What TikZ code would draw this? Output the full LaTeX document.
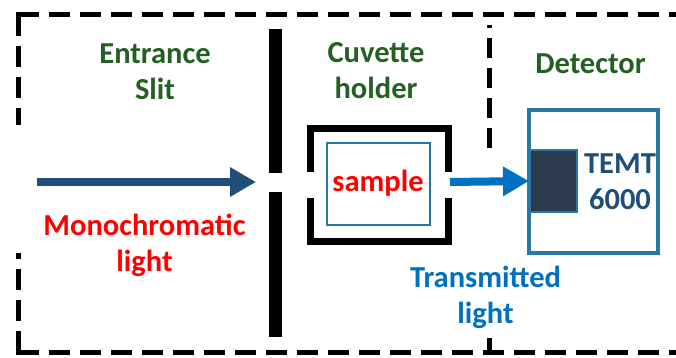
\documentclass[tikz,border=0pt]{standalone}
\usepackage{fontspec}
\setmainfont{Carlito}
\usetikzlibrary{arrows.meta}
\definecolor{lblgreen}{RGB}{36,96,36}
\definecolor{lblred}{RGB}{255,0,0}
\definecolor{darkblue}{RGB}{31,78,121}
\definecolor{brightblue}{RGB}{0,112,192}
\definecolor{boxblue}{RGB}{40,120,165}
\definecolor{sensor}{RGB}{44,58,78}
\begin{document}
\begin{tikzpicture}[x=1pt,y=-1pt,
  lbl/.style={font=\fontsize{30.5}{36}\selectfont\bfseries, align=center, inner sep=0pt},
  border/.style={line width=5pt, dash pattern=on 21pt off 10pt},
  bracket/.style={line width=7pt, line join=miter},
  beam/.style={line width=8pt, -{Triangle[length=26pt,width=28pt]}}]
\useasboundingbox (0,0) rectangle (676,358);
% outer dashed frame
\draw[border] (18,15) -- (676,15);
\draw[border] (18,15) -- (18,125);
\draw[border] (18,352) -- (676,352);
\draw[border] (18,352) -- (18,253);
\fill (15.5,12.5) rectangle (20.5,17.5);
\fill (15.5,349.5) rectangle (20.5,354.5);
% divider
\draw[line width=5pt, dash pattern=on 20pt off 10pt, dash phase=17pt] (489,25) -- (489,152);
\draw[line width=5pt] (489,338) -- (489,352);
% entrance slit
\fill (269,29) rectangle (282,173);
\fill (269,192) rectangle (282,337);
% cuvette holder
\draw[bracket] (310.5,172) -- (310.5,128.5) -- (448.5,128.5) -- (448.5,172);
\draw[bracket] (310.5,198) -- (310.5,241.5) -- (448.5,241.5) -- (448.5,198);
\node[draw=boxblue, line width=2pt, minimum width=103pt, minimum height=82pt, inner sep=0pt] (sample) at (378.5,184) {};
\node[lbl, text=lblred] (sampletxt) at (378,183) {sample};
% detector
\node[draw=boxblue, line width=4pt, minimum width=129pt, minimum height=143pt, inner sep=0pt] (det) at (593.5,181.5) {};
\node[draw=boxblue, fill=sensor, line width=2pt, minimum width=47pt, minimum height=62pt, inner sep=0pt] (sens) at (553.5,181) {};
\node[lbl, text=darkblue] (temt) at (620,181.5) {TEMT\\6000};
% beams
\coordinate (srcA) at (37,182);
\coordinate (tipA) at (256,182);
\draw[beam, darkblue] (srcA) -- (tipA);
\coordinate (srcB) at (450,182);
\draw[beam, brightblue] (srcB) -- (sens.west);
% labels
\node[lbl, text=lblgreen] (entr) at (155,72) {Entrance\\Slit};
\node[lbl, text=lblgreen] (cuv) at (376,71) {Cuvette\\holder};
\node[lbl, text=lblgreen] (detl) at (590.5,64) {Detector};
\node[lbl, text=lblred] (mono) at (144.5,245.5) {Monochromatic\\light};
\node[lbl, text=brightblue] (trans) at (485.5,297) {Transmitted\\light};
\end{tikzpicture}
\end{document}
